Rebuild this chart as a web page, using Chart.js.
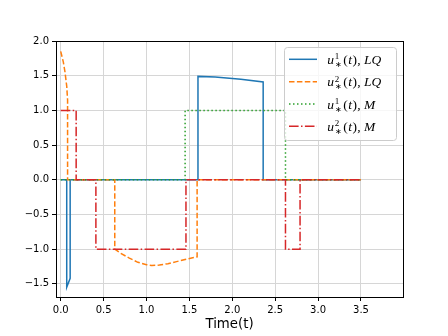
<!DOCTYPE html>
<html>
<head>
<meta charset="utf-8">
<script src="https://cdn.jsdelivr.net/npm/chart.js@4"></script>
<style>
  body { margin: 0; background: #fff; }
  canvas { display: block; }
</style>
</head>
<body>
<canvas id="chart" width="448" height="336"></canvas>
<script>
// data
const tLQ1 = [0, 0.07, 0.07, 0.11, 0.11, 1.60, 1.60, 1.80, 2.10, 2.36, 2.36, 3.5];
const uLQ1 = [0, 0, -1.55, -1.42, 0, 0, 1.49, 1.48, 1.45, 1.41, 0, 0];

const tLQ2 = [0, 0.03, 0.05, 0.07, 0.08, 0.08, 0.63, 0.63, 0.70, 0.80, 0.90, 1.00, 1.06, 1.15, 1.25, 1.35, 1.45, 1.55, 1.59, 1.59, 3.5];
const uLQ2 = [1.85, 1.70, 1.55, 1.35, 1.15, 0, 0, -1.00, -1.06, -1.13, -1.19, -1.225, -1.235, -1.23, -1.21, -1.18, -1.15, -1.12, -1.11, 0, 0];

const tM1 = [0, 1.45, 1.45, 2.62, 2.62, 3.5];
const uM1 = [0, 0, 1, 1, 0, 0];

const tM2 = [0, 0.18, 0.18, 0.41, 0.41, 1.46, 1.46, 2.62, 2.62, 2.79, 2.79, 3.5];
const uM2 = [1, 1, 0, 0, -1, -1, 0, 0, -1, -1, 0, 0];

const xTicks = [0, 0.5, 1.0, 1.5, 2.0, 2.5, 3.0, 3.5];
const yTicks = [-1.5, -1.0, -0.5, 0.0, 0.5, 1.0, 1.5, 2.0];

// legend entries: [base, superscript, subscript, argument, tail]
const legendItems = [
    ['u', '1', '\u2217', 't', 'LQ'],
    ['u', '2', '\u2217', 't', 'LQ'],
    ['u', '1', '\u2217', 't', 'M'],
    ['u', '2', '\u2217', 't', 'M']
];

function pts(t, u) {
    return t.map((v, i) => ({ x: v, y: u[i] }));
}

function fmt(v) {
    return v.toFixed(1).replace('-', '\u2212');
}

const MATH = '"Liberation Serif"';

// frame around the plot + legend box (matplotlib style)
const framePlugin = {
    id: 'frame',
    afterDatasetsDraw(chart) {
        const ctx = chart.ctx;
        const a = chart.chartArea;
        ctx.save();
        ctx.strokeStyle = '#000';
        ctx.lineWidth = 1;
        ctx.strokeRect(a.left + 0.5, a.top + 0.5, a.right - a.left, a.bottom - a.top);

        // legend box
        const bx = 284, by = 47, bw = 112, bh = 93;
        ctx.beginPath();
        ctx.roundRect(bx + 0.5, by + 0.5, bw, bh, 3);
        ctx.fillStyle = 'rgba(255,255,255,0.8)';
        ctx.fill();
        ctx.strokeStyle = '#cccccc';
        ctx.stroke();

        chart.data.datasets.forEach((ds, i) => {
            const y = 59.3 + i * 22.35;
            ctx.beginPath();
            ctx.setLineDash(ds.borderDash || []);
            ctx.strokeStyle = ds.borderColor;
            ctx.lineWidth = ds.borderWidth;
            ctx.moveTo(289, y);
            ctx.lineTo(317, y);
            ctx.stroke();
            ctx.setLineDash([]);

            // math-like label: u^k_*(t), XX
            const it = legendItems[i];
            const base = y + 4.5;
            let x = 327.3;
            ctx.fillStyle = '#000';
            ctx.textBaseline = 'alphabetic';
            ctx.textAlign = 'left';
            ctx.font = 'italic 13.5px ' + MATH;
            ctx.fillText(it[0], x, base);
            x += ctx.measureText(it[0]).width + 0.8;
            ctx.font = '9px ' + MATH;
            ctx.fillText(it[1], x, base - 4.5);
            const w1 = ctx.measureText(it[1]).width;
            ctx.font = '8px ' + MATH;
            ctx.fillText(it[2], x - 0.3, base + 3);
            const w2 = ctx.measureText(it[2]).width;
            x += Math.max(w1, w2) + 1.5;
            ctx.font = '13.5px ' + MATH;
            ctx.fillText('(', x, base);
            x += ctx.measureText('(').width + 0.3;
            ctx.font = 'italic 13.5px ' + MATH;
            ctx.fillText(it[3], x, base);
            x += ctx.measureText(it[3]).width + 0.5;
            ctx.font = '13.5px ' + MATH;
            ctx.fillText(')', x, base);
            x += ctx.measureText(')').width + 0.3;
            ctx.fillText(',', x, base);
            x += ctx.measureText(',').width + 3.5;
            ctx.font = 'italic 13.5px ' + MATH;
            ctx.fillText(it[4], x, base);
        });
        ctx.restore();
    }
};

const common = { pointRadius: 0, borderWidth: 1.5, fill: false, tension: 0 };

new Chart(document.getElementById('chart'), {
    type: 'line',
    data: {
        datasets: [
            { ...common, label: 'u1 LQ', data: pts(tLQ1, uLQ1), borderColor: '#1f77b4', order: 3 },
            { ...common, label: 'u2 LQ', data: pts(tLQ2, uLQ2), borderColor: '#ff7f0e', borderDash: [5.5, 2.4], order: 2 },
            { ...common, label: 'u1 M', data: pts(tM1, uM1), borderColor: '#2ca02c', borderDash: [1.5, 2.5], order: 1 },
            { ...common, label: 'u2 M', data: pts(tM2, uM2), borderColor: '#d62728', borderDash: [9.6, 2.4, 1.5, 2.4], order: 0 }
        ]
    },
    options: {
        responsive: false,
        animation: false,
        devicePixelRatio: 1,
        layout: { padding: { top: 41, right: 45, left: 0, bottom: 0 } },
        plugins: { legend: { display: false }, tooltip: { enabled: false } },
        scales: {
            x: {
                type: 'linear',
                min: -0.055,
                max: 3.99,
                afterBuildTicks: (s) => { s.ticks = xTicks.map(v => ({ value: v })); },
                afterFit: (s) => { s.height = 39; },
                border: { display: false },
                grid: { color: '#d6d6d6', tickColor: '#000', tickLength: 4 },
                ticks: {
                    color: '#000',
                    padding: 3,
                    maxRotation: 0,
                    font: { family: 'DejaVu Sans', size: 10 },
                    callback: (v) => fmt(v)
                },
                title: {
                    display: true,
                    text: 'Time(t)',
                    color: '#000',
                    font: { family: 'DejaVu Sans', size: 13.3 },
                    padding: { top: 0, bottom: 3 }
                }
            },
            y: {
                min: -1.69,
                max: 2.0,
                afterBuildTicks: (s) => { s.ticks = yTicks.map(v => ({ value: v })); },
                afterFit: (s) => { s.width = 56; },
                border: { display: false },
                grid: { color: '#d6d6d6', tickColor: '#000', tickLength: 4 },
                ticks: {
                    color: '#000',
                    padding: 3,
                    font: { family: 'DejaVu Sans', size: 10 },
                    callback: (v) => fmt(v)
                }
            }
        }
    },
    plugins: [framePlugin]
});
</script>
</body>
</html>
